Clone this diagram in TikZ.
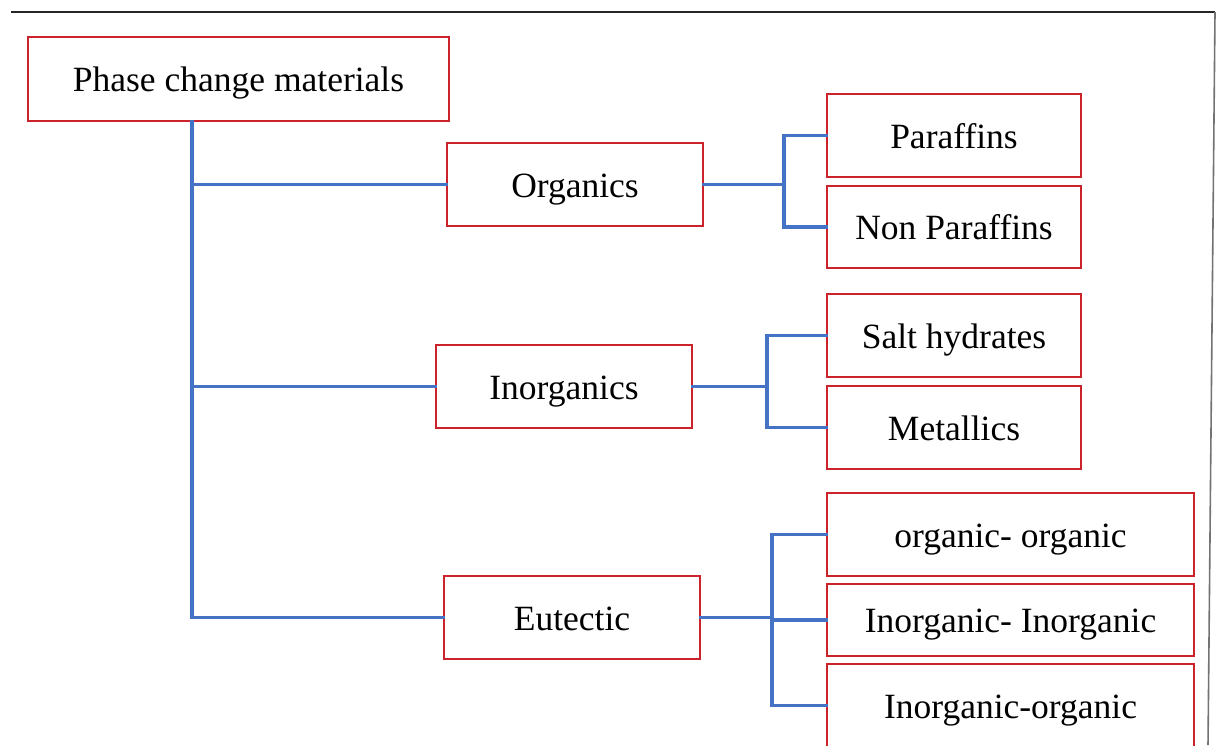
\documentclass[tikz,border=0pt]{standalone}
\usepackage{fontspec}
\setmainfont{Liberation Serif}
\definecolor{boxred}{RGB}{204,34,44}
\definecolor{linkblue}{RGB}{68,114,196}
\begin{document}
\begin{tikzpicture}[x=1pt,y=-1pt,
  catbox/.style={draw=boxred,line width=2.6pt,fill=white,inner sep=0pt,
    minimum width=256pt,minimum height=83pt,text height=25pt,text depth=0pt,
    font=\fontsize{35.5}{40}\selectfont},
  link/.style={draw=linkblue,line width=3.8pt,line cap=rect}]
\clip (0,0) rectangle (1217,745);
\fill[white] (0,0) rectangle (1217,745);
% frame lines of the page
\draw[line width=2pt,black!85] (11,12) -- (1215,12);
\draw[line width=1.6pt,black!55] (1215,12) -- (1208,745);

% category boxes
\node[catbox,minimum width=421pt,minimum height=84pt] (pcm) at (238.5,79) {Phase change materials};
\node[catbox] (org) at (575,184.5) {Organics};
\node[catbox] (inorg) at (564,386.5) {Inorganics};
\node[catbox] (eut) at (572,617.5) {Eutectic};

\node[catbox,minimum width=254pt] (par) at (954,135.5) {Paraffins};
\node[catbox,minimum width=254pt,minimum height=82pt] (npar) at (954,227) {Non Paraffins};
\node[catbox,minimum width=254pt] (salt) at (954,335.5) {Salt hydrates};
\node[catbox,minimum width=254pt] (metal) at (954,427.5) {Metallics};
\node[catbox,minimum width=367pt] (oo) at (1010.5,534.5) {organic- organic};
\node[catbox,minimum width=367pt,minimum height=72pt] (ii) at (1010.5,620) {Inorganic- Inorganic};
\node[catbox,minimum width=367pt] (io) at (1010.5,705.5) {Inorganic-organic};

% branch positions
\coordinate (tk) at (192,0);
\coordinate (b1) at (784,0);
\coordinate (b2) at (767,0);
\coordinate (b3) at (772,0);

% main trunk
\draw[link] (pcm.south -| tk) -- (tk |- eut.west) -- (eut.west);
\draw[link] (tk |- org.west) -- (org.west);
\draw[link] (tk |- inorg.west) -- (inorg.west);

% organics
\draw[link] (org.east) -- (org.east -| b1);
\draw[link] (par.west) -- (par.west -| b1) -- (npar.west -| b1) -- (npar.west);

% inorganics
\draw[link] (inorg.east) -- (inorg.east -| b2);
\draw[link] (salt.west) -- (salt.west -| b2) -- (metal.west -| b2) -- (metal.west);

% eutectic
\draw[link] (eut.east) -- (eut.east -| b3);
\draw[link] (oo.west) -- (oo.west -| b3) -- (io.west -| b3) -- (io.west);
\draw[link] (ii.west -| b3) -- (ii.west);
\end{tikzpicture}
\end{document}
